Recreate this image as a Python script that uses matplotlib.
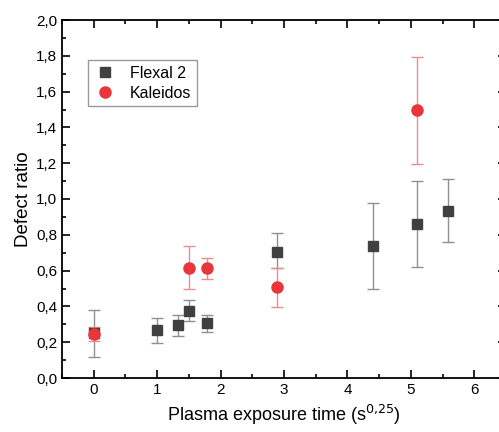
import matplotlib
matplotlib.use("Agg")
from matplotlib import pyplot as plt
from matplotlib.ticker import MultipleLocator, FuncFormatter

plt.rcParams['font.family'] = ['Liberation Sans', 'DejaVu Sans']

# Flexal 2 (x, y, lower err end, upper err end)
flexal_x = [0.0, 1.0, 1.33, 1.5, 1.78, 2.89, 4.4, 5.09, 5.59]
flexal_y = [0.25, 0.268, 0.294, 0.374, 0.305, 0.706, 0.737, 0.86, 0.933]
flexal_lo = [0.117, 0.197, 0.236, 0.317, 0.255, 0.615, 0.495, 0.62, 0.758]
flexal_hi = [0.378, 0.337, 0.354, 0.437, 0.354, 0.808, 0.98, 1.10, 1.11]

# Kaleidos
kal_x = [0.0, 1.5, 1.78, 2.89, 5.09]
kal_y = [0.246, 0.616, 0.616, 0.507, 1.497]
kal_lo = [0.208, 0.495, 0.555, 0.397, 1.196]
kal_hi = [0.287, 0.737, 0.672, 0.615, 1.795]

fig = plt.figure(figsize=(4.99, 4.32), dpi=100)
ax = fig.add_axes([62/499, 1 - 378/432, 444/499, 358/432])

ax.errorbar(flexal_x, flexal_y,
            yerr=[[y - l for y, l in zip(flexal_y, flexal_lo)],
                  [h - y for y, h in zip(flexal_y, flexal_hi)]],
            fmt='none', ecolor='#909090', elinewidth=1, capsize=4, zorder=2)
ax.plot(flexal_x, flexal_y, 's', color='#404040', markersize=7.5,
        label='Flexal 2', zorder=3)
ax.errorbar(kal_x, kal_y,
            yerr=[[y - l for y, l in zip(kal_y, kal_lo)],
                  [h - y for y, h in zip(kal_y, kal_hi)]],
            fmt='none', ecolor='#ec8a8c', elinewidth=1, capsize=4, zorder=2)
ax.plot(kal_x, kal_y, 'o', color='#e8363a', markersize=8,
        label='Kaleidos', zorder=4)

ax.set_xlim(-0.5, 6.5)
ax.set_ylim(0, 2.0)
ax.xaxis.set_major_locator(MultipleLocator(1))
ax.xaxis.set_minor_locator(MultipleLocator(0.5))
ax.yaxis.set_major_locator(MultipleLocator(0.2))
ax.yaxis.set_minor_locator(MultipleLocator(0.1))
ax.yaxis.set_major_formatter(FuncFormatter(lambda v, p: f'{v:.1f}'.replace('.', ',')))
ax.tick_params(which='both', direction='in', top=True, right=True, labelsize=11, width=1.2)
ax.tick_params(which='major', length=6)
ax.tick_params(which='minor', length=3)
ax.tick_params(axis='y', which='both', right=True, length=8)
ax.tick_params(axis='y', which='major', left=True, length=6)
ax.tick_params(axis='y', which='minor', left=True, length=3)
for s in ax.spines.values():
    s.set_linewidth(1.3)
ax.spines['right'].set_visible(False)

ax.set_xlabel('Plasma exposure time (s$^{0{,}25}$)', fontsize=13, labelpad=4)
ax.set_ylabel('Defect ratio', fontsize=13.5, labelpad=3)

leg = ax.legend(loc='upper left', bbox_to_anchor=(0.04, 0.91), fontsize=11.5,
                frameon=True, fancybox=False, edgecolor='#808080',
                handletextpad=0.8, borderpad=0.35, labelspacing=0.3, handlelength=1.5)
leg.get_frame().set_linewidth(1)

fig.savefig('out.png', dpi=100)
